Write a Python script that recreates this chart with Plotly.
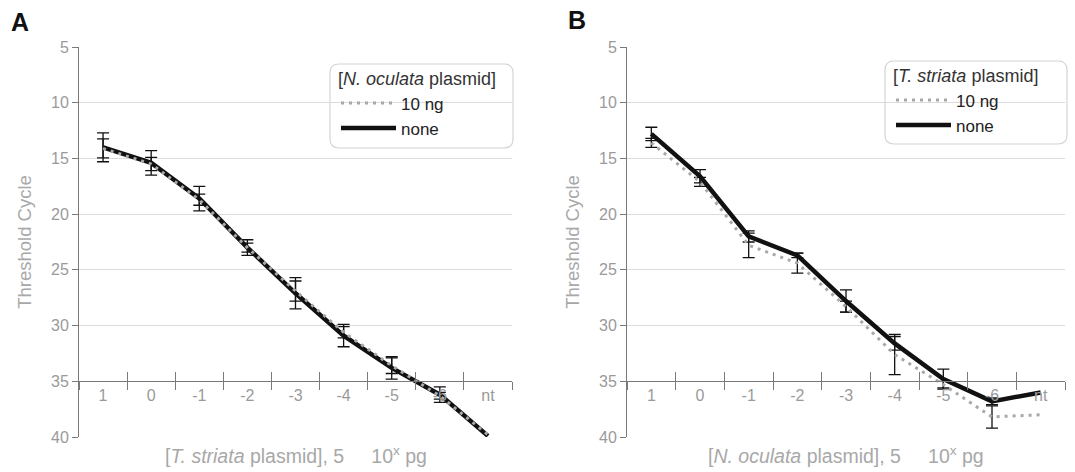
import plotly.graph_objects as go

# ---------------- data ----------------
categories = ["1", "0", "-1", "-2", "-3", "-4", "-5", "-6", "nt"]

# Panel A : x = [T. striata plasmid], legend = [N. oculata plasmid]
a_none = [14.0, 15.4, 18.6, 23.0, 27.1, 30.9, 33.8, 36.2, 39.9]
a_none_err = [1.3, 1.1, 1.1, 0.7, 1.4, 1.0, 1.0, 0.7, None]
a_10ng = [14.1, 15.5, 18.7, 23.0, 26.9, 30.6, 33.6, 36.3, 39.8]
a_10ng_err = [0.85, 0.6, 0.5, 0.4, 0.9, 0.5, 0.7, 0.3, None]

# Panel B : x = [N. oculata plasmid], legend = [T. striata plasmid]
b_none = [12.8, 16.6, 22.0, 23.7, 27.8, 31.6, 34.8, 36.8, 36.0]
b_none_err = [0.6, 0.6, 0.5, 0.2, 1.0, 0.6, 0.9, 0.3, None]
b_10ng = [13.6, 17.1, 22.8, 24.4, 28.3, 32.6, 35.3, 38.2, 38.0]
b_10ng_err = [0.4, 0.4, 1.1, 0.9, 0.5, 1.8, 0.3, 1.0, None]

y_title = "Threshold Cycle"
xa_title = "[<i>T. striata</i> plasmid], 5\u00a0\u00a0\u00a0\u00a0\u00a010<sup>x</sup> pg"
xb_title = "[<i>N. oculata</i> plasmid], 5\u00a0\u00a0\u00a0\u00a0\u00a010<sup>x</sup> pg"
legend_a_title = "[<i>N. oculata</i> plasmid]"
legend_b_title = "[<i>T. striata</i> plasmid]"

# ---------------- style ----------------
W, H = 1075, 472
MT, MB = 47, 35
PH = H - MT - MB
FONT = "Liberation Sans, Arial, sans-serif"
GRAY = "#9a9a9a"
AXIS = "#7a7a7a"
GRID = "#dcdcdc"

def px_x(p):
    return p / W

def px_y(p):
    return 1 - (p - MT) / PH

def err_list(errs):
    # points without an error bar are left out (trailing), so no cap is drawn
    out = list(errs)
    while out and out[-1] is None:
        out.pop()
    return out

dom_a = [px_x(79), px_x(512)]
dom_b = [px_x(627), px_x(1065)]
axis_pos = (40 - 35) / (40 - 5)

fig = go.Figure()

def add_panel(x_main, x_over, yref, none, none_err, ten, ten_err, legend):
    fig.add_trace(go.Scatter(
        x=categories, y=none, xaxis=x_main, yaxis=yref, name="none",
        mode="lines", line=dict(color="#111111", width=4.5),
        error_y=dict(type="data", array=err_list(none_err), color="#111111",
                     thickness=1.3, width=6),
        legend=legend, hoverinfo="skip"))
    fig.add_trace(go.Scatter(
        x=categories, y=ten, xaxis=x_over, yaxis=yref, name="10 ng",
        mode="lines", line=dict(color="#a8a8a8", width=3, dash="3px,5px"),
        error_y=dict(type="data", array=err_list(ten_err), color="#111111",
                     thickness=1.3, width=6),
        legend=legend, hoverinfo="skip"))

add_panel("x", "x3", "y", a_none, a_none_err, a_10ng, a_10ng_err, "legend")
add_panel("x2", "x4", "y2", b_none, b_none_err, b_10ng, b_10ng_err, "legend2")

def cat_axis(domain, overlay=None):
    d = dict(
        type="category", categoryorder="array", categoryarray=categories,
        range=[-0.5, len(categories) - 0.5], domain=domain,
        anchor="free", position=axis_pos,
        tickson="boundaries", showgrid=False, zeroline=False,
        tickcolor=AXIS, tickwidth=1.2)
    if overlay is None:
        d.update(showline=True, linecolor=AXIS, linewidth=1,
                 ticks="outside", ticklen=8,
                 tickfont=dict(family=FONT, size=16, color=GRAY))
    else:
        d.update(overlaying=overlay, showline=False, ticks="inside",
                 ticklen=9, showticklabels=False)
    return d

def y_axis(anchor):
    return dict(
        anchor=anchor, range=[40, 5], tick0=5, dtick=5, domain=[0, 1],
        showgrid=True, gridcolor=GRID, gridwidth=1, zeroline=False,
        showline=True, linecolor=AXIS, linewidth=1,
        ticks="outside", ticklen=6, tickcolor=AXIS,
        tickfont=dict(family=FONT, size=16, color=GRAY),
        title=dict(text=y_title, standoff=14,
                   font=dict(family=FONT, size=18.5, color="#a8a8a8")))

def legend_cfg(x_px, y_px, title):
    return dict(
        x=px_x(x_px), y=px_y(y_px), xanchor="left", yanchor="top",
        xref="paper", yref="paper",
        traceorder="reversed", bgcolor="rgba(0,0,0,0)", borderwidth=0,
        itemwidth=55, tracegroupgap=0,
        font=dict(family=FONT, size=17, color="#222222"),
        title=dict(text=title, font=dict(family=FONT, size=18, color="#333333")))

def rounded_box(x0, y0, x1, y1, r=9):
    X0, X1 = px_x(x0), px_x(x1)
    Y0, Y1 = px_y(y0), px_y(y1)
    rx, ry = r / W, r / PH
    path = (f"M{X0+rx},{Y0} L{X1-rx},{Y0} Q{X1},{Y0} {X1},{Y0-ry} "
            f"L{X1},{Y1+ry} Q{X1},{Y1} {X1-rx},{Y1} "
            f"L{X0+rx},{Y1} Q{X0},{Y1} {X0},{Y1+ry} "
            f"L{X0},{Y0-ry} Q{X0},{Y0} {X0+rx},{Y0} Z")
    return dict(type="path", xref="paper", yref="paper", path=path,
                line=dict(color="#d4d4d4", width=1.2),
                fillcolor="white", layer="below")

fig.update_layout(
    width=W, height=H,
    margin=dict(l=0, r=0, t=MT, b=MB),
    paper_bgcolor="white", plot_bgcolor="white",
    font=dict(family=FONT),
    xaxis=cat_axis(dom_a),
    xaxis2=cat_axis(dom_b),
    xaxis3=cat_axis(dom_a, overlay="x"),
    xaxis4=cat_axis(dom_b, overlay="x2"),
    yaxis=y_axis("x"),
    yaxis2=y_axis("x2"),
    legend=legend_cfg(336, 62, legend_a_title),
    legend2=legend_cfg(891, 59, legend_b_title),
    shapes=[rounded_box(330, 64, 513, 148), rounded_box(885, 61, 1067, 144)],
    showlegend=True,
    annotations=[
        dict(text="<b>A</b>", x=px_x(9), y=px_y(22), xref="paper", yref="paper",
             xanchor="left", yanchor="middle", showarrow=False,
             font=dict(family=FONT, size=25, color="#111111")),
        dict(text="<b>B</b>", x=px_x(566), y=px_y(20), xref="paper", yref="paper",
             xanchor="left", yanchor="middle", showarrow=False,
             font=dict(family=FONT, size=25, color="#111111")),
        dict(text=xa_title, x=0.5, y=0, xref="x domain", yref="paper",
             xanchor="center", yanchor="middle", yshift=-18, showarrow=False,
             font=dict(family=FONT, size=19.5, color="#a8a8a8")),
        dict(text=xb_title, x=0.5, y=0, xref="x2 domain", yref="paper",
             xanchor="center", yanchor="middle", yshift=-18, showarrow=False,
             font=dict(family=FONT, size=19.5, color="#a8a8a8")),
    ],
)

fig.write_html("out.html")
